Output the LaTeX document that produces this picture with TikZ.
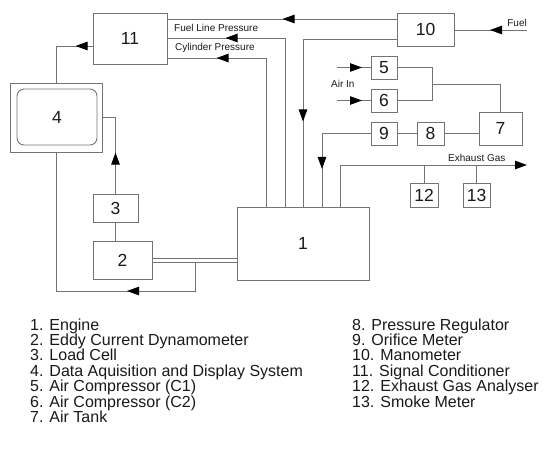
\documentclass[tikz,border=0pt]{standalone}
\usepackage{fontspec}
\setmainfont{Liberation Sans}
\usetikzlibrary{arrows.meta,decorations.markings}
\definecolor{linegray}{RGB}{115,115,115}
\definecolor{txt}{RGB}{25,25,25}
\begin{document}
\begin{tikzpicture}[x=1pt,y=-1pt,
  ln/.style={draw=linegray, line width=0.9pt},
  box/.style={draw=linegray, line width=0.9pt, inner sep=0pt, font=\fontsize{17.5}{20}\selectfont, text=txt},
  lbl/.style={font=\fontsize{10}{12}\selectfont, inner sep=0pt, text=txt},
  leg/.style={font=\fontsize{16}{18}\selectfont, inner sep=0pt, anchor=base west, text=txt},
  endtip/.style={-{Triangle[length=12pt,width=8.5pt,color=black]}},
  arrowat/.style={postaction={decorate,decoration={markings,mark=at position #1 with {\arrow{Triangle[length=12pt,width=8.5pt,color=black]}}}}}
]
\useasboundingbox (0,0) rectangle (557,461);

% boxes
\node[box, minimum width=132pt, minimum height=73pt] (n1) at (303,243.5) {1};
\node[box, minimum width=59pt, minimum height=38pt] (n2) at (122.5,260) {2};
\node[box, minimum width=45pt, minimum height=28pt] (n3) at (115.5,208) {3};
\node[box, minimum width=92pt, minimum height=69pt] (n4) at (56,117.5) {};
\node[box, rounded corners=7pt, minimum width=80pt, minimum height=56pt] (n4in) at (57,117) {4};
\node[box, minimum width=26pt, minimum height=23pt] (n5) at (384,67.5) {5};
\node[box, minimum width=26pt, minimum height=23pt] (n6) at (384,100.5) {6};
\node[box, minimum width=43pt, minimum height=33pt] (n7) at (500.5,128.5) {7};
\node[box, minimum width=27pt, minimum height=23pt] (n8) at (430.5,133.5) {8};
\node[box, minimum width=26pt, minimum height=23pt] (n9) at (384,133.5) {9};
\node[box, minimum width=57pt, minimum height=33pt] (n10) at (425.5,29.5) {10};
\node[box, minimum width=74pt, minimum height=51pt] (n11) at (130,38.5) {11};
\node[box, minimum width=28pt, minimum height=24pt] (n12) at (424,195) {12};
\node[box, minimum width=27pt, minimum height=24pt] (n13) at (476.5,195) {13};

% helper levels
\coordinate (ytop) at (0,19);
\coordinate (yflp) at (0,38);
\coordinate (ycyl) at (0,58);
\coordinate (y10b) at (0,39);
\coordinate (yfuel) at (0,30);
\coordinate (yair) at (0,84);
\coordinate (yexh) at (0,165);
\coordinate (y11l) at (0,46);
\coordinate (y4r) at (0,117);
\coordinate (yshA) at (0,258);
\coordinate (yshB) at (0,262);
\coordinate (ybot) at (0,291);
\coordinate (xcyl) at (266,0);
\coordinate (xflp) at (285,0);
\coordinate (x10) at (303,0);
\coordinate (x9) at (322,0);
\coordinate (xexh) at (340,0);
\coordinate (xair) at (432,0);
\coordinate (x4) at (56,0);
\coordinate (xsh) at (195,0);
\coordinate (exhend) at (527,165);
\coordinate (fuelin) at (527,30);
\coordinate (air5) at (337,67.5);
\coordinate (air6) at (337,100.5);

% connectors
\draw[ln, arrowat=114pt] (n10.west |- ytop) -- (n11.east |- ytop);
\draw[ln, arrowat=228pt] (n1.north -| xflp) |- (n11.east |- yflp);
\draw[ln, arrowat=198pt] (n1.north -| xcyl) |- (n11.east |- ycyl);
\draw[ln, arrowat=176pt] (n10.west |- y10b) -| (n1.north -| x10);
\draw[ln, arrowat=84pt] (n9.west) -| (n1.north -| x9);
\draw[ln, endtip] (n1.north -| xexh) |- (exhend);
\draw[ln] (n12.north) -- (n12.north |- yexh);
\draw[ln] (n13.north) -- (n13.north |- yexh);
\draw[ln, arrowat=37pt] (fuelin) -- (n10.east |- yfuel);
\draw[ln, arrowat=25pt] (air5) -- (n5.west);
\draw[ln, arrowat=25pt] (air6) -- (n6.west);
\draw[ln] (n5.east) -| (xair |- n6.east) -- (n6.east);
\draw[ln] (xair |- yair) -| (n7.north);
\draw[ln] (n9.east) -- (n8.west);
\draw[ln] (n8.east) -- (n7.west |- n8.east);
\draw[ln, arrowat=17pt] (n11.west |- y11l) -| (n4.north -| x4);
\draw[ln, arrowat=41pt] (n3.north) |- (n4.east |- y4r);
\draw[ln] (n3.south) -- (n2.north -| n3.south);
\draw[ln] (n2.east |- yshA) -- (n1.west |- yshA);
\draw[ln] (n2.east |- yshB) -- (n1.west |- yshB);
\draw[ln, arrowat=97pt] (xsh |- yshB) |- (x4 |- ybot) -- (n4.south -| x4);

% labels
\node[lbl, anchor=west] (lflp) at (174,28) {Fuel Line Pressure};
\node[lbl, anchor=west] (lcyl) at (175,48) {Cylinder Pressure};
\node[lbl, anchor=east] (lfuel) at (527,23) {Fuel};
\node[lbl, anchor=west] (lair) at (331,83.5) {Air In};
\node[lbl, anchor=west] (lexh) at (448,158) {Exhaust Gas};

% legend
\foreach \t [count=\i from 0] in {1. Engine, 2. Eddy Current Dynamometer, 3. Load Cell,
  4. Data Aquisition and Display System, 5. Air Compressor (C1), 6. Air Compressor (C2), 7. Air Tank}
  \node[leg] (legL\i) at (30,330+15.4*\i) {\t};
\foreach \t [count=\i from 0] in {8. Pressure Regulator, 9. Orifice Meter, 10. Manometer,
  11. Signal Conditioner, 12. Exhaust Gas Analyser, 13. Smoke Meter}
  \node[leg] (legR\i) at (352,330+15.4*\i) {\t};
\end{tikzpicture}
\end{document}
